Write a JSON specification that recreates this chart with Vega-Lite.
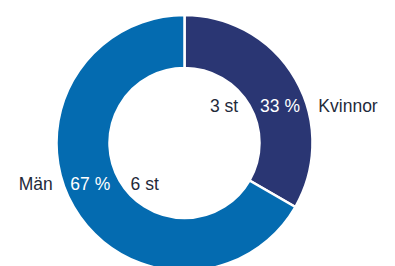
{
  "$schema": "https://vega.github.io/schema/vega-lite/v6.json",
  "width": 395,
  "height": 266,
  "autosize": {"type": "fit", "contains": "padding"},
  "padding": {"left": 0, "right": 26, "top": 20, "bottom": 0},
  "background": "white",
  "config": {"view": {"stroke": null}},
  "data": {
    "values": [
      {"kon": "Kvinnor", "antal": 3, "andel": "33 %", "st": "3 st"},
      {"kon": "Män", "antal": 6, "andel": "67 %", "st": "6 st"}
    ]
  },
  "encoding": {
    "theta": {"field": "antal", "type": "quantitative", "stack": true},
    "order": {"field": "antal", "type": "quantitative", "sort": "ascending"}
  },
  "layer": [
    {
      "mark": {"type": "arc", "radius": 128, "radius2": 75, "stroke": "white", "strokeWidth": 2.5},
      "encoding": {
        "color": {
          "field": "kon",
          "type": "nominal",
          "scale": {"domain": ["Kvinnor", "Män"], "range": ["#2A3673", "#046BB0"]},
          "legend": null
        }
      }
    },
    {
      "mark": {"type": "text", "radius": 102.6, "thetaOffset": 0.1335, "dx": 0.65, "dy": 3, "font": "Liberation Sans", "fontSize": 17.5, "color": "white", "align": "center", "baseline": "middle"},
      "encoding": {"text": {"field": "andel"}, "detail": {"field": "kon"}}
    },
    {
      "mark": {"type": "text", "radius": 55.6, "thetaOffset": -0.2531, "dx": -0.15, "dy": 3, "font": "Liberation Sans", "fontSize": 17.5, "color": "#1F2A3A", "align": "center", "baseline": "middle"},
      "encoding": {"text": {"field": "st"}, "detail": {"field": "kon"}}
    },
    {
      "mark": {"type": "text", "radius": 160.9, "thetaOffset": 0.2793, "dx": 7.4, "dy": 3, "font": "Liberation Sans", "fontSize": 17.5, "color": "#1F2A3A", "align": "center", "baseline": "middle"},
      "encoding": {"text": {"field": "kon"}, "detail": {"field": "kon"}}
    }
  ]
}
